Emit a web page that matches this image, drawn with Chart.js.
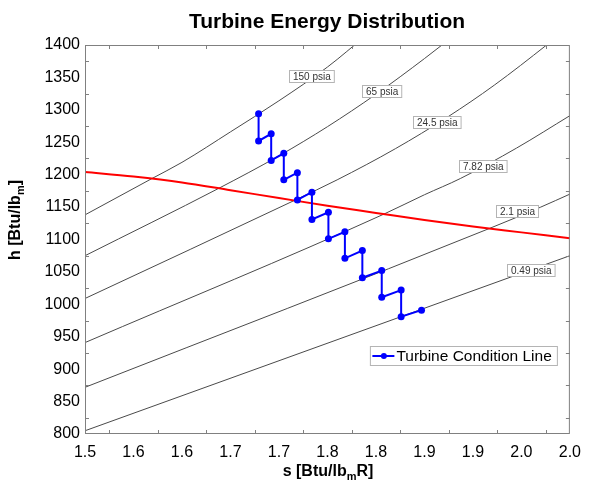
<!DOCTYPE html>
<html>
<head>
<meta charset="utf-8">
<script src="https://cdn.jsdelivr.net/npm/chart.js@4.4.1/dist/chart.umd.min.js"></script>
<style>
html, body { margin: 0; padding: 0; background: #fff; }
</style>
</head>
<body>
<canvas id="chart" width="590" height="485"></canvas>
<script>
// saturated vapour line (red)
const satS = [1.50, 1.55, 1.60, 1.65, 1.70, 1.75, 1.80, 1.85, 1.90, 1.95, 2.00];
const satH = [1204, 1197, 1188, 1176, 1164, 1152, 1141, 1130, 1120, 1111, 1102];

// isobars
const s150 = [1.50, 1.569, 1.60, 1.65, 1.70, 1.75, 1.79];
const h150 = [1138, 1194, 1219, 1266, 1314, 1366, 1415];
const s65 = [1.50, 1.638, 1.70, 1.75, 1.80, 1.85, 1.88];
const h65 = [1075, 1179, 1229, 1274, 1324, 1379, 1414];
const s245 = [1.50, 1.717, 1.76, 1.82, 1.874, 1.922, 1.976, 1.99];
const h245 = [1009, 1161, 1192, 1240, 1289, 1338, 1400, 1417];
const s782 = [1.50, 1.808, 1.85, 1.887, 1.945, 2.00];
const h782 = [941, 1139, 1169, 1194, 1241, 1291];
const s21 = [1.50, 1.917, 1.97, 2.00];
const h21 = [872, 1117, 1150, 1170];
const s049 = [1.50, 2.00];
const h049 = [805, 1075];

const isobarNames = ['150 psia', '65 psia', '24.5 psia', '7.82 psia', '2.1 psia', '0.49 psia'];
const labelS = [1.733, 1.8055, 1.8625, 1.910, 1.9455, 1.9593];
const labelH = [1352, 1329, 1282, 1214, 1144, 1053];

// turbine condition line
const turbineS = [1.679, 1.679, 1.692, 1.692, 1.705, 1.705, 1.719, 1.719, 1.734, 1.734, 1.751,
                  1.751, 1.768, 1.768, 1.786, 1.786, 1.806, 1.806, 1.826, 1.826, 1.847];
const turbineH = [1294, 1252, 1263, 1222, 1233, 1192, 1203, 1161, 1173, 1131, 1142,
                  1101, 1112, 1071, 1083, 1041, 1052, 1011, 1022, 981, 991];

const xTickValues = [1.50, 1.55, 1.60, 1.65, 1.70, 1.75, 1.80, 1.85, 1.90, 1.95, 2.00];
const xTickLabels = ['1.5', '1.6', '1.6', '1.7', '1.7', '1.8', '1.8', '1.9', '1.9', '2.0', '2.0'];
const yTickValues = [800, 850, 900, 950, 1000, 1050, 1100, 1150, 1200, 1250, 1300, 1350, 1400];
const xMinor = [1.525, 1.575, 1.625, 1.675, 1.725, 1.775, 1.825, 1.875, 1.925, 1.975];
const yMinor = [825, 875, 925, 975, 1025, 1075, 1125, 1175, 1225, 1275, 1325, 1375];

const FONT = '"Liberation Sans", Arial, sans-serif';

function pts(s, h) {
  return s.map((v, i) => ({ x: v, y: h[i] }));
}

function isobar(s, h) {
  return {
    data: pts(s, h),
    borderColor: '#4a4a4a',
    borderWidth: 1,
    pointRadius: 0,
    cubicInterpolationMode: 'monotone'
  };
}

// text with a subscript part, centred on cx, cy
function subText(ctx, parts, cx, cy, size) {
  const big = 'bold ' + size + 'px ' + FONT;
  const small = 'bold ' + Math.round(size * 0.68) + 'px ' + FONT;
  let w = 0;
  parts.forEach(p => { ctx.font = p[1] ? small : big; w += ctx.measureText(p[0]).width; });
  let x = cx - w / 2;
  ctx.textBaseline = 'alphabetic';
  ctx.textAlign = 'left';
  parts.forEach(p => {
    ctx.font = p[1] ? small : big;
    ctx.fillText(p[0], x, cy + size * 0.36 + (p[1] ? size * 0.28 : 0));
    x += ctx.measureText(p[0]).width;
  });
}

const decor = {
  id: 'decor',
  afterDatasetsDraw(chart) {
    const { ctx, chartArea: a, scales: { x, y } } = chart;
    ctx.save();

    // isobar labels
    ctx.font = '10px ' + FONT;
    ctx.textAlign = 'center';
    ctx.textBaseline = 'middle';
    isobarNames.forEach((name, i) => {
      const px = x.getPixelForValue(labelS[i]);
      const py = y.getPixelForValue(labelH[i]);
      const w = ctx.measureText(name).width + 7;
      const bx = Math.round(px - w / 2) + 0.5, by = Math.round(py - 6) + 0.5;
      ctx.fillStyle = '#fff';
      ctx.fillRect(bx, by, w, 12);
      ctx.strokeStyle = '#b4b4b4';
      ctx.lineWidth = 1;
      ctx.strokeRect(bx, by, w, 12);
      ctx.fillStyle = '#333';
      ctx.fillText(name, bx + w / 2, by + 6.5);
    });

    // legend
    const lx = a.right - 199.5, ly = a.bottom - 87.5;
    ctx.fillStyle = '#fff';
    ctx.fillRect(lx, ly, 187, 19);
    ctx.strokeStyle = '#b4b4b4';
    ctx.strokeRect(lx, ly, 187, 19);
    ctx.strokeStyle = '#0000ff';
    ctx.lineWidth = 2;
    ctx.beginPath();
    ctx.moveTo(lx + 2, ly + 9.5);
    ctx.lineTo(lx + 24, ly + 9.5);
    ctx.stroke();
    ctx.fillStyle = '#0000ff';
    ctx.beginPath();
    ctx.arc(lx + 13.5, ly + 9.5, 3, 0, Math.PI * 2);
    ctx.fill();
    ctx.fillStyle = '#000';
    ctx.font = '15.5px ' + FONT;
    ctx.textAlign = 'left';
    ctx.textBaseline = 'middle';
    ctx.fillText('Turbine Condition Line', lx + 26, ly + 10);

    // frame and inward minor ticks
    ctx.strokeStyle = '#808080';
    ctx.lineWidth = 1;
    ctx.strokeRect(a.left + 0.5, a.top + 0.5, a.right - a.left - 1, a.bottom - a.top - 1);
    ctx.beginPath();
    xMinor.forEach(v => {
      const px = Math.round(x.getPixelForValue(v)) + 0.5;
      ctx.moveTo(px, a.bottom); ctx.lineTo(px, a.bottom - 4);
      ctx.moveTo(px, a.top); ctx.lineTo(px, a.top + 4);
    });
    yMinor.forEach(v => {
      const py = Math.round(y.getPixelForValue(v)) + 0.5;
      ctx.moveTo(a.left, py); ctx.lineTo(a.left + 4, py);
      ctx.moveTo(a.right, py); ctx.lineTo(a.right - 4, py);
    });
    ctx.stroke();

    // titles
    ctx.fillStyle = '#000';
    ctx.font = 'bold 21px ' + FONT;
    ctx.textAlign = 'center';
    ctx.textBaseline = 'middle';
    ctx.fillText('Turbine Energy Distribution', 327, 22);
    subText(ctx, [['s [Btu/lb', false], ['m', true], ['R]', false]], 328, 470, 16);
    ctx.translate(14, 220);
    ctx.rotate(-Math.PI / 2);
    subText(ctx, [['h [Btu/lb', false], ['m', true], [']', false]], 0, 0, 16);
    ctx.restore();
  }
};

new Chart(document.getElementById('chart'), {
  type: 'line',
  data: {
    datasets: [
      {
        data: pts(turbineS, turbineH),
        borderColor: '#0000ff',
        backgroundColor: '#0000ff',
        borderWidth: 2,
        pointRadius: 3.5,
        pointBorderWidth: 0,
        tension: 0
      },
      {
        data: pts(satS, satH),
        borderColor: '#ff0000',
        borderWidth: 2,
        pointRadius: 0,
        cubicInterpolationMode: 'monotone'
      },
      isobar(s150, h150),
      isobar(s65, h65),
      isobar(s245, h245),
      isobar(s782, h782),
      isobar(s21, h21),
      isobar(s049, h049)
    ]
  },
  options: {
    responsive: false,
    animation: false,
    devicePixelRatio: 1,
    layout: { padding: { top: 45, right: 14, bottom: 0, left: 0 } },
    plugins: { legend: { display: false }, tooltip: { enabled: false } },
    scales: {
      x: {
        type: 'linear',
        min: 1.5,
        max: 2.0,
        afterBuildTicks: s => { s.ticks = xTickValues.map(v => ({ value: v })); },
        afterFit: s => { s.height = 51; },
        ticks: {
          callback: (v, i) => xTickLabels[i],
          font: { family: FONT, size: 16 },
          color: '#000',
          padding: 9,
          maxRotation: 0,
          autoSkip: false
        },
        grid: { display: false, drawTicks: false },
        border: { display: false }
      },
      y: {
        type: 'linear',
        min: 800,
        max: 1400,
        afterBuildTicks: s => { s.ticks = yTickValues.map(v => ({ value: v })); },
        afterFit: s => { s.width = 85; },
        ticks: {
          callback: v => String(v),
          font: { family: FONT, size: 16 },
          color: '#000',
          padding: 5,
          autoSkip: false
        },
        grid: { display: false, drawTicks: false },
        border: { display: false }
      }
    }
  },
  plugins: [decor]
});
</script>
</body>
</html>
